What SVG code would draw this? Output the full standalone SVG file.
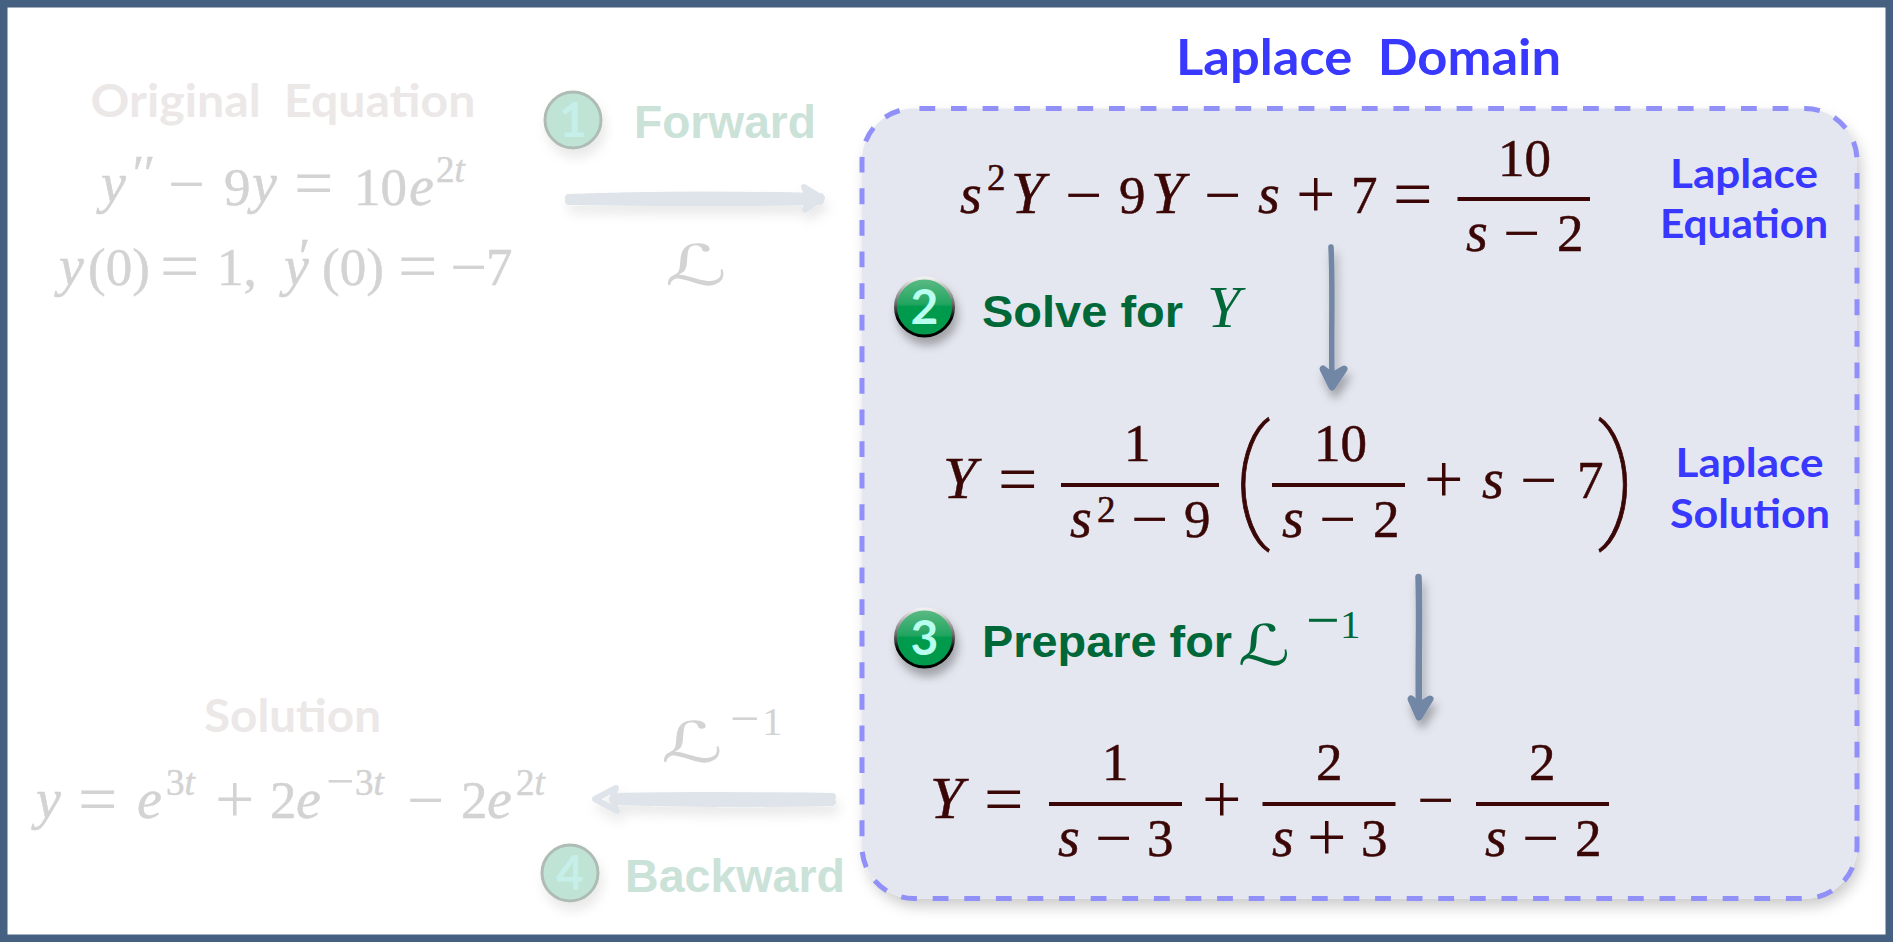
<svg xmlns="http://www.w3.org/2000/svg" width="1893" height="942" viewBox="0 0 1893 942">
<style>
text{font-family:"Liberation Serif",serif;white-space:pre}
.m text{font-size:53px;stroke-width:.5}
.d text{stroke:#3a0606}
.f text{stroke:#d3d3d3}
.d{fill:#3a0606}
.f{fill:#d3d3d3}
.m text.i{font-style:italic;font-size:56px}
.m text.Y{font-style:italic;font-size:60px}
.m text.s{font-size:37px}
.m text.o{font-size:70px;stroke-width:0}
.m text.n{font-size:66px;stroke-width:0}
.m text.u{font-size:50px;stroke-width:0}
.m text.p{font-family:Roboto,sans-serif;font-weight:100;font-size:132px;stroke-width:.8}
.m text.c{font-family:Lato,"Open Sans",sans-serif;font-weight:700;stroke:none}
.l{font-family:"DejaVu Serif","DejaVu Sans",serif;font-style:italic}
.c{font-family:Lato,"Open Sans",sans-serif;font-weight:700}
.b{font-family:"Liberation Sans",Arial,sans-serif;font-weight:700}
.blue{fill:#3838ff}
.pale{fill:#ece8e8}
.gr{fill:#006838}
.pg{fill:#cbe2d8}
.num{font-family:Lato,"Liberation Sans",sans-serif;font-weight:700;font-size:48px;text-anchor:middle}
.bar{fill:#3a0606}
.arr{fill:none;stroke:#7286a6;stroke-linecap:round;stroke-linejoin:round}
.parr{fill:none;stroke:#dfe3ea;stroke-linecap:round;stroke-linejoin:round}
</style>
<defs>
<linearGradient id="g" x1="0" y1="0" x2="0" y2="1"><stop offset="0" stop-color="#5dbb85"/><stop offset=".45" stop-color="#22a560"/><stop offset=".5" stop-color="#009a4e"/><stop offset="1" stop-color="#009a4e"/></linearGradient>
<linearGradient id="ring" x1="0" y1="0" x2="0" y2="1"><stop offset="0" stop-color="#f0f0f0"/><stop offset=".45" stop-color="#666"/><stop offset=".7" stop-color="#000"/><stop offset="1" stop-color="#000"/></linearGradient>
<filter id="sh" x="-20%" y="-20%" width="140%" height="150%"><feDropShadow dx="3" dy="8" stdDeviation="5" flood-color="#000" flood-opacity=".3"/></filter>
<filter id="shl" x="-20%" y="-20%" width="140%" height="150%"><feDropShadow dx="3" dy="8" stdDeviation="6" flood-color="#000" flood-opacity=".09"/></filter>
<filter id="box" x="-5%" y="-5%" width="110%" height="112%"><feDropShadow dx="4" dy="8" stdDeviation="7" flood-color="#000" flood-opacity=".2"/></filter>
</defs>
<rect x="3.750" y="3.750" width="1885.500" height="934.500" fill="#fff" stroke="#456080" stroke-width="7.500"/>

<g id="laplace-domain">
<text class="c blue" x="1176" y="75" font-size="49" textLength="385" lengthAdjust="spacingAndGlyphs">Laplace  Domain</text>
<rect x="862" y="108.500" width="995" height="790" rx="52" ry="52" fill="#e4e7ef" filter="url(#box)"/>
<rect x="862" y="108.500" width="995" height="790" rx="52" ry="52" fill="none" stroke="#9090f8" stroke-width="5" stroke-dasharray="15.800 15.800" stroke-dashoffset="-5.400"/>
</g>

<g id="original-equation" class="m f">
<text class="c pale" x="90.500" y="117" style="font-size:46px" textLength="385" lengthAdjust="spacingAndGlyphs">Original  Equation</text>
<text class="i" x="101" y="202">y</text><text class="s" x="133" y="190" style="font-size:50px">′′</text>
<text class="n" x="168" y="206">−</text><text x="224" y="205">9</text><text class="i" x="252" y="202">y</text>
<text class="o" x="294" y="207">=</text><text x="354" y="205">10</text><text class="i" x="409" y="205">e</text>
<text class="s" x="436" y="182">2<tspan class="i" style="font-style:italic">t</tspan></text>
<text class="i" x="59" y="285">y</text><text x="88" y="285">(0)</text><text class="o" x="160" y="290">=</text><text x="217" y="285">1,</text>
<text class="i" x="284" y="285">y</text><text class="s" x="299" y="273" style="font-size:50px">′</text><text x="322" y="285">(0)</text><text class="o" x="398" y="290">=</text><text class="n" x="450" y="289">−</text><text x="486" y="285">7</text>
</g>

<g id="step-forward">
<circle cx="573" cy="120" r="28" fill="#bfe3d5" stroke="#aebcb5" stroke-width="3" filter="url(#shl)"/>
<text class="num" x="573" y="137" fill="#c5efe8">1</text>
<text class="b pg" x="634" y="138" font-size="46" textLength="182" lengthAdjust="spacingAndGlyphs">Forward</text>
<text class="l f" x="665" y="285" font-size="56" textLength="62" lengthAdjust="spacingAndGlyphs">ℒ</text>
</g>

<g id="laplace-equation" class="m d">
<text class="i" x="960" y="213">s</text><text class="s" x="987" y="190">2</text>
<text class="Y" x="1011" y="213">Y</text>
<text class="n" x="1065" y="217">−</text><text x="1119" y="213">9</text>
<text class="Y" x="1151" y="213">Y</text>
<text class="n" x="1204" y="217">−</text><text class="i" x="1258" y="213">s</text>
<text class="o" x="1296" y="218">+</text><text x="1351" y="213">7</text><text class="o" x="1393" y="218">=</text>
<rect class="bar" x="1457.500" y="197" width="132.500" height="4"/>
<text x="1498" y="176">10</text>
<text class="i" x="1466" y="251">s</text><text class="n" x="1503" y="255">−</text><text x="1557" y="251">2</text>
<text class="c blue" x="1670" y="188" style="font-size:40px;stroke:none" textLength="148" lengthAdjust="spacingAndGlyphs">Laplace</text>
<text class="c blue" x="1660" y="238" style="font-size:40px;stroke:none" textLength="168" lengthAdjust="spacingAndGlyphs">Equation</text>
</g>

<g id="step-solve">
<circle cx="924.500" cy="307" r="29" fill="url(#g)" stroke="url(#ring)" stroke-width="3" filter="url(#sh)"/>
<text class="num" x="924.500" y="324" fill="#b8fff0">2</text>
<text class="b gr" x="982" y="327" font-size="45" textLength="201" lengthAdjust="spacingAndGlyphs">Solve for</text>
<text class="gr" x="1207" y="327" font-size="60" font-style="italic">Y</text>
</g>

<g id="laplace-solution" class="m d">
<text class="Y" x="943" y="498">Y</text><text class="o" x="998" y="503">=</text>
<rect class="bar" x="1061" y="483" width="158" height="4"/>
<text x="1124" y="461">1</text>
<text class="i" x="1070" y="537">s</text><text class="s" x="1097" y="522">2</text><text class="n" x="1131" y="541">−</text><text x="1184" y="537">9</text>
<text class="p" x="1232" y="522">(</text>
<rect class="bar" x="1272" y="483" width="133" height="4"/>
<text x="1314" y="461">10</text>
<text class="i" x="1282" y="537">s</text><text class="n" x="1319" y="541">−</text><text x="1373" y="537">2</text>
<text class="o" x="1424" y="503">+</text><text class="i" x="1482" y="498">s</text><text class="n" x="1520" y="502">−</text><text x="1577" y="498">7</text>
<text class="p" x="1597" y="522">)</text>
<text class="c blue" x="1675.500" y="477" style="font-size:40px;stroke:none" textLength="148" lengthAdjust="spacingAndGlyphs">Laplace</text>
<text class="c blue" x="1670" y="528" style="font-size:40px;stroke:none" textLength="160" lengthAdjust="spacingAndGlyphs">Solution</text>
</g>

<g id="step-prepare">
<circle cx="924.500" cy="638" r="29" fill="url(#g)" stroke="url(#ring)" stroke-width="3" filter="url(#sh)"/>
<text class="num" x="924.500" y="655" fill="#b8fff0">3</text>
<text class="b gr" x="982" y="657" font-size="45" textLength="250" lengthAdjust="spacingAndGlyphs">Prepare for</text>
<text class="l gr" x="1238" y="665" font-size="56" textLength="52" lengthAdjust="spacingAndGlyphs">ℒ</text>
<text class="gr" x="1306" y="640" font-size="60">−</text><text class="gr" x="1340" y="638" font-size="41">1</text>
</g>

<g id="partial-fractions" class="m d">
<text class="Y" x="930" y="818">Y</text><text class="o" x="984" y="823">=</text>
<rect class="bar" x="1049" y="802" width="133" height="4"/>
<text x="1102" y="780">1</text>
<text class="i" x="1058" y="856">s</text><text class="n" x="1095" y="860">−</text><text x="1147" y="856">3</text>
<text class="o" x="1202" y="823">+</text>
<rect class="bar" x="1262.500" y="802" width="133" height="4"/>
<text x="1316" y="780">2</text>
<text class="i" x="1272" y="856">s</text><text class="o" x="1307" y="861">+</text><text x="1361" y="856">3</text>
<text class="n" x="1417" y="822">−</text>
<rect class="bar" x="1476" y="802" width="133" height="4"/>
<text x="1529" y="780">2</text>
<text class="i" x="1485" y="856">s</text><text class="n" x="1522" y="860">−</text><text x="1575" y="856">2</text>
</g>

<g id="solution" class="m f">
<text class="c pale" x="204" y="732" style="font-size:46px" textLength="177" lengthAdjust="spacingAndGlyphs">Solution</text>
<text class="i" x="36" y="818">y</text><text class="o" x="78" y="823">=</text><text class="i" x="137" y="818">e</text>
<text class="s" x="166" y="795">3<tspan style="font-style:italic">t</tspan></text>
<text class="o" x="215" y="823">+</text><text x="270" y="818">2</text><text class="i" x="296" y="818">e</text>
<text class="u" x="326" y="798">−</text><text class="s" x="355" y="795">3<tspan style="font-style:italic">t</tspan></text>
<text class="n" x="407" y="822">−</text><text x="461" y="818">2</text><text class="i" x="487" y="818">e</text>
<text class="s" x="516" y="795">2<tspan style="font-style:italic">t</tspan></text>
</g>

<g id="step-backward">
<circle cx="570" cy="873" r="28" fill="#bfe3d5" stroke="#aebcb5" stroke-width="3" filter="url(#shl)"/>
<text class="num" x="570" y="890" fill="#c5efe8">4</text>
<text class="b pg" x="625" y="892" font-size="46" textLength="220" lengthAdjust="spacingAndGlyphs">Backward</text>
<text class="l f" x="661" y="762" font-size="56" textLength="62" lengthAdjust="spacingAndGlyphs">ℒ</text>
<text class="f" x="730" y="736" font-size="52">−</text><text class="f" x="762" y="735" font-size="41">1</text>
</g>

<g id="connectors">
<g filter="url(#shl)">
<path class="parr" d="M569 198 C640 195 740 195 820 197 M569 201 C650 202 740 203 820 201" stroke-width="8"/>
<path class="parr" d="M804 187 L822 198 L805 210 L809 198 Z" stroke-width="6"/>
<path class="parr" d="M615 797 C680 795 760 796 832 797 M615 801 C680 803 760 804 832 802" stroke-width="8"/>
<path class="parr" d="M616 788 L595 799 L617 811 L612 799 Z" stroke-width="6"/>
</g>
<g filter="url(#sh)">
<path class="arr" d="M1331 247 C1333 290 1331 330 1332 380" stroke-width="5.500"/>
<path class="arr" d="M1323 369 L1332 387 L1344 369 L1332 376 Z" stroke-width="7"/>
<path class="arr" d="M1418.500 577 C1420 620 1418 660 1419 710" stroke-width="6.500"/>
<path class="arr" d="M1411 699 L1419 717 L1430 699 L1419 706 Z" stroke-width="7"/>
</g>
</g>
</svg>
